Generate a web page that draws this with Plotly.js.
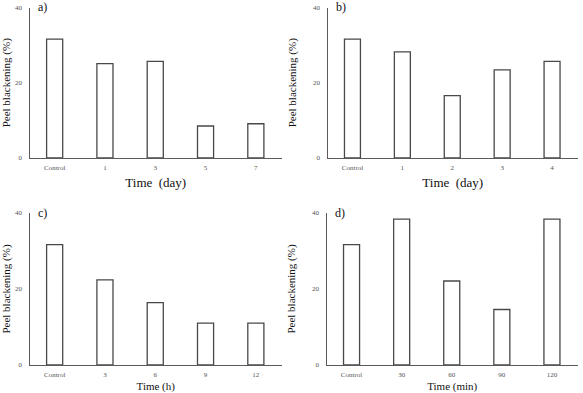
<!DOCTYPE html>
<html>
<head>
<meta charset="utf-8">
<script src="https://cdn.plot.ly/plotly-3.0.1.min.js"></script>
<style>html,body{margin:0;padding:0;background:#fff;}#chart{width:583px;height:393px;}</style>
</head>
<body>
<div id="chart"></div>
<script>
// Data
const catsA = ["Control", "1", "3", "5", "7"];
const valsA = [31.6, 25.1, 25.7, 8.5, 9.1];
const catsB = ["Control", "1", "2", "3", "4"];
const valsB = [31.6, 28.2, 16.6, 23.4, 25.7];
const catsC = ["Control", "3", "6", "9", "12"];
const valsC = [31.7, 22.4, 16.4, 11.0, 11.0];
const catsD = ["Control", "30", "60", "90", "120"];
const valsD = [31.7, 38.4, 22.1, 14.6, 38.4];
const panelLabels = ["a)", "b)", "c)", "d)"];
const xTitles = ["Time  (day)", "Time  (day)", "Time (h)", "Time (min)"];
const yTitle = "Peel blackening (%)";
const yTicks = [0, 20, 40];

const W = 583, H = 393;
const FONT = "Liberation Serif, Times New Roman, serif";
const panels = [
  {cats: catsA, vals: valsA, x0: 29.5, x1: 282, y0: 158, y1: 7.5, xt: 13},
  {cats: catsB, vals: valsB, x0: 327.5, x1: 578, y0: 158, y1: 7.5, xt: 13},
  {cats: catsC, vals: valsC, x0: 29.5, x1: 282, y0: 365, y1: 213, xt: 11},
  {cats: catsD, vals: valsD, x0: 326.5, x1: 578, y0: 365, y1: 213, xt: 11}
];

const data = [];
const layout = {
  width: W, height: H,
  margin: {l: 0, r: 0, t: 0, b: 0},
  paper_bgcolor: "#fff", plot_bgcolor: "#fff",
  showlegend: false,
  font: {family: FONT, color: "#222"},
  annotations: []
};

panels.forEach((p, i) => {
  const n = i === 0 ? "" : String(i + 1);
  data.push({
    type: "bar",
    x: p.cats, y: p.vals,
    xaxis: "x" + n, yaxis: "y" + n,
    width: 0.32,
    marker: {color: "#ffffff", line: {color: "#484848", width: 1.3}},
    hoverinfo: "x+y"
  });
  layout["xaxis" + n] = {
    domain: [p.x0 / W, p.x1 / W],
    anchor: "y" + n,
    type: "category",
    range: [-0.5, 4.52],
    showline: true, linecolor: "#5a5a5a", linewidth: 1,
    showgrid: false, zeroline: false,
    ticks: "", ticklabelstandoff: 3,
    tickfont: {family: FONT, size: 7, color: "#555"},
    title: {text: xTitles[i], font: {family: FONT, size: p.xt, color: "#111"}, standoff: 6},
    fixedrange: true
  };
  layout["yaxis" + n] = {
    domain: [1 - p.y0 / H, 1 - p.y1 / H],
    anchor: "x" + n,
    range: [0, 40],
    tickvals: yTicks,
    showline: true, linecolor: "#5a5a5a", linewidth: 1,
    showgrid: false, zeroline: false,
    ticks: "", ticklabelstandoff: 5,
    tickfont: {family: FONT, size: 7, color: "#555"},
    title: {text: yTitle, font: {family: FONT, size: 11, color: "#111"}},
    fixedrange: true
  };
  layout.annotations.push({
    text: panelLabels[i],
    xref: "paper", yref: "paper",
    x: (p.x0 + 6) / W, y: 1 - (p.y1 - 0.5) / H,
    xanchor: "left", yanchor: "middle",
    showarrow: false,
    font: {family: FONT, size: 12, color: "#111"}
  });
});

Plotly.newPlot("chart", data, layout, {displayModeBar: false, staticPlot: true});
</script>
</body>
</html>
